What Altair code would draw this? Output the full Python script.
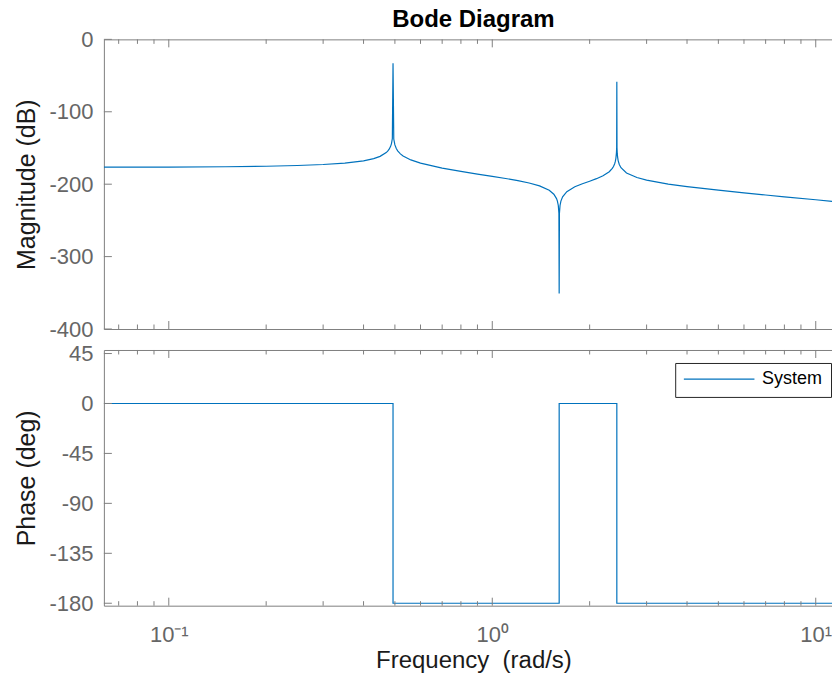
import altair as alt
import pandas as pd

# ---------------- data ----------------
mag_freq = [0.063, 0.1, 0.15, 0.2, 0.25, 0.3, 0.35, 0.4, 0.43, 0.45, 0.47, 0.475, 0.48,
            0.485, 0.488, 0.491, 0.4934, 0.496, 0.5, 0.505, 0.51, 0.52, 0.53, 0.56, 0.6,
            0.7, 0.8, 0.9, 1.0, 1.1, 1.2, 1.3, 1.4, 1.5, 1.55, 1.58, 1.59, 1.6, 1.607,
            1.61, 1.613, 1.62, 1.63, 1.65, 1.7, 1.8, 1.9, 2.0, 2.1, 2.2, 2.3, 2.35, 2.37,
            2.39, 2.40, 2.41, 2.42, 2.424, 2.427, 2.43, 2.435, 2.44, 2.45, 2.47, 2.5, 2.6,
            2.8, 3.0, 3.5, 4.0, 5.0, 6.0, 7.0, 8.0, 10.0, 12.0, 12.2]
mag_db = [-176.5, -176.3, -175.9, -175.2, -174.2, -172.8, -170.8, -167.7, -164.7, -161.6,
          -156.4, -154.4, -151.7, -147.7, -143.9, -136.9, -33.1, -137.6, -145.8, -150.7,
          -153.9, -158.1, -161.0, -166.5, -171.0, -177.8, -182.4, -186.0, -189.1, -192.1,
          -195.1, -198.4, -202.4, -208.4, -213.8, -219.9, -223.4, -229.4, -239.9, -350.8,
          -239.9, -229.4, -223.4, -217.4, -210.3, -203.6, -199.4, -195.9, -192.4, -188.4,
          -182.8, -178.2, -175.5, -171.7, -168.9, -164.9, -157.1, -149.7, -58.6, -149.7,
          -158.2, -162.4, -167.4, -172.7, -177.2, -184.5, -190.8, -194.4, -199.8, -203.3,
          -208.3, -212.0, -214.9, -217.4, -221.5, -224.8, -225.1]

phase_freq = [0.063, 0.4934, 0.4934, 1.610, 1.610, 2.427, 2.427, 12.2]
phase_deg = [0, 0, -180, -180, 0, 0, -180, -180]
series_name = "System"

x_major = [0.1, 1, 10]
x_major_labels = ["10\u207b\u00b9", "10\u2070", "10\u00b9"]
x_minor = [0.07, 0.08, 0.09, 0.2, 0.3, 0.4, 0.5, 0.6, 0.7, 0.8, 0.9,
           2, 3, 4, 5, 6, 7, 8, 9]
mag_ticks = [0, -100, -200, -300, -400]
phase_ticks = [45, 0, -45, -90, -135, -180]

# ---------------- styling ----------------
LINE = "#0072BD"
AX = "#808080"
LAB = "#666666"
FONT = "Liberation Sans"
W = 740
H_MAG = 290
H_PH = 256
X_DOMAIN = [0.0630, 12.14]
MAG_DOMAIN = [-400, 0]
PH_DOMAIN = [-182.2, 48.2]

mag_df = pd.DataFrame({"f": mag_freq, "v": mag_db})
ph_df = pd.DataFrame({"f": phase_freq, "v": phase_deg,
                      "i": list(range(len(phase_freq))),
                      "series": [series_name] * len(phase_freq)})
major_df = pd.DataFrame({"f": x_major})
minor_df = pd.DataFrame({"f": x_minor})
magt_df = pd.DataFrame({"v": mag_ticks})
pht_df = pd.DataFrame({"v": phase_ticks})

xscale = alt.Scale(type="log", domain=X_DOMAIN, nice=False)

label_expr = (f"datum.value < 0.5 ? '{x_major_labels[0]}' : "
              f"(datum.value < 5 ? '{x_major_labels[1]}' : '{x_major_labels[2]}')")
hyphen_expr = "replace(datum.label, '\u2212', '-')"


def frame_axis(orient):
    return alt.Axis(orient=orient, labels=False, ticks=False, tickSize=0, domain=True,
                    title=None, grid=False, minExtent=0, maxExtent=0)


def tick_layers(H, yscale, ytick_df):
    top_major = alt.Chart(major_df).mark_rule(color=AX, strokeWidth=1).encode(
        x=alt.X("f:Q", scale=xscale, axis=frame_axis("top")),
        y=alt.value(0), y2=alt.value(8))
    top_minor = alt.Chart(minor_df).mark_rule(color=AX, strokeWidth=1).encode(
        x=alt.X("f:Q", scale=xscale, axis=None), y=alt.value(0), y2=alt.value(4.5))
    bot_major = alt.Chart(major_df).mark_rule(color=AX, strokeWidth=1).encode(
        x=alt.X("f:Q", scale=xscale, axis=None), y=alt.value(H), y2=alt.value(H - 8))
    bot_minor = alt.Chart(minor_df).mark_rule(color=AX, strokeWidth=1).encode(
        x=alt.X("f:Q", scale=xscale, axis=None), y=alt.value(H), y2=alt.value(H - 4.5))
    yt = alt.Chart(ytick_df).mark_rule(color=AX, strokeWidth=1).encode(
        y=alt.Y("v:Q", scale=yscale, axis=None), x=alt.value(0), x2=alt.value(8))
    return [top_major, top_minor, bot_major, bot_minor, yt]


mag_y = alt.Scale(domain=MAG_DOMAIN, nice=False, zero=False)
ph_y = alt.Scale(domain=PH_DOMAIN, nice=False, zero=False)

mag_line = alt.Chart(mag_df).mark_line(color=LINE, strokeWidth=1.2, clip=True).encode(
    x=alt.X("f:Q", scale=xscale, axis=frame_axis("bottom")),
    y=alt.Y("v:Q", scale=mag_y,
            axis=alt.Axis(values=mag_ticks, title="Magnitude (dB)", ticks=False, tickSize=0,
                          grid=False, labelPadding=11, titlePadding=9,
                          labelExpr=hyphen_expr)),
)

mag = alt.layer(mag_line, *tick_layers(H_MAG, mag_y, magt_df)).resolve_axis(
    x="independent", y="independent").properties(
    width=W, height=H_MAG,
    title=alt.Title("Bode Diagram", fontSize=24, fontWeight="bold", color="black",
                    font=FONT, anchor="middle", frame="group", offset=-4))

ph_line = alt.Chart(ph_df).mark_line(strokeWidth=1.2, clip=True).encode(
    x=alt.X("f:Q", scale=xscale,
            axis=alt.Axis(values=x_major, labelExpr=label_expr, ticks=False, tickSize=0,
                          domain=True, grid=False, title="Frequency\u00a0 (rad/s)",
                          labelPadding=19, titlePadding=3, labelFontSize=22,
                          titleFontSize=24)),
    y=alt.Y("v:Q", scale=ph_y,
            axis=alt.Axis(values=phase_ticks, title="Phase (deg)", ticks=False, tickSize=0,
                          grid=False, labelPadding=11, titlePadding=9,
                          labelExpr=hyphen_expr)),
    order=alt.Order("i:Q"),
    color=alt.Color("series:N", scale=alt.Scale(domain=[series_name], range=[LINE]),
                    legend=alt.Legend(orient="none", legendX=572, legendY=13, title=None,
                                      symbolType="stroke", symbolSize=5000,
                                      symbolStrokeWidth=1.2, labelFontSize=18,
                                      labelColor="black", labelFont=FONT,
                                      strokeColor="#262626", fillColor="white",
                                      padding=8, labelOffset=7, cornerRadius=0,
                                      clipHeight=16.5)),
)

phase = alt.layer(ph_line, *tick_layers(H_PH, ph_y, pht_df)).resolve_axis(
    x="independent", y="independent").properties(width=W, height=H_PH)

chart = alt.vconcat(mag, phase, spacing=21, bounds="flush").resolve_scale(
    color="independent").resolve_legend(color="independent").properties(
    padding={"left": 6, "right": -11, "top": 0, "bottom": 0}
).configure_axis(
    labelFont=FONT, titleFont=FONT, labelFontSize=22, titleFontSize=25,
    labelColor=LAB, titleColor="#1a1a1a", domainColor=AX, domainWidth=1,
    titleFontWeight="normal"
).configure_view(stroke=None)

chart.save("out.html", embed_options={"renderer": "svg", "actions": False})
